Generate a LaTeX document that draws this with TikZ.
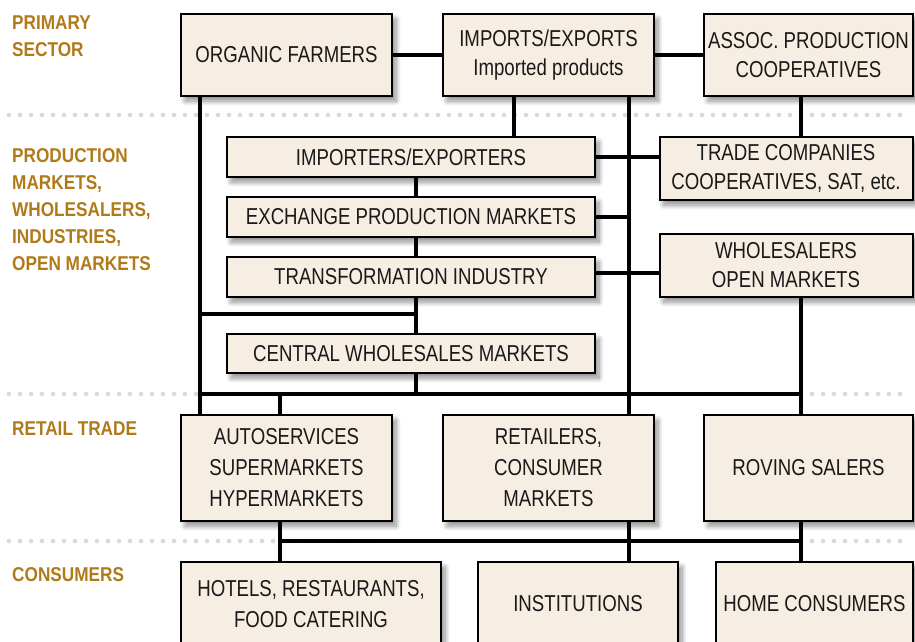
\documentclass[tikz,border=0pt]{standalone}
\usepackage{fontspec}
\setmainfont[FakeStretch=0.81]{Liberation Sans}
\newfontfamily\labelfont[FakeStretch=0.86]{Liberation Sans}
\usetikzlibrary{shadows,shadows.blur}
\definecolor{boxfill}{RGB}{246,238,227}
\definecolor{labelcol}{RGB}{176,122,24}
\definecolor{dotgray}{RGB}{218,218,218}
\definecolor{txt}{RGB}{25,25,25}
\tikzset{
  box/.style={draw=black, line width=2pt, fill=boxfill, inner sep=0pt, outer sep=0pt,
    align=center, text=txt, font=\fontsize{23}{31}\selectfont,
    blur shadow={shadow xshift=4pt, shadow yshift=-5pt, shadow blur radius=5pt, shadow blur steps=10, shadow opacity=45}},
  seclabel/.style={anchor=north west, align=left, text=labelcol, inner sep=0pt,
    font=\labelfont\bfseries\fontsize{20}{27}\selectfont},
  conn/.style={line width=3.4pt, draw=black},
}
\begin{document}
\begin{tikzpicture}[x=1pt,y=-1pt]
\useasboundingbox (0,0) rectangle (915,641);
\clip (0,0) rectangle (915,641);
% dotted separators
\foreach \yy in {115,394,541}{
  \foreach \xx in {9,20,...,910}{
    \fill[dotgray] (\xx,\yy) circle (2.3);
  }
}
% section labels
\node[seclabel] (lprim) at (12,16) {PRIMARY\\SECTOR};
\node[seclabel] (lprod) at (12,148) {PRODUCTION\\MARKETS,\\WHOLESALERS,\\INDUSTRIES,\\OPEN MARKETS};
\node[seclabel] (lret) at (12,421.5) {RETAIL TRADE};
\node[seclabel] (lcon) at (12,567) {CONSUMERS};
% boxes
\node[box, minimum width=211, minimum height=82] (org) at (286.5,55) {ORGANIC FARMERS};
\node[box, minimum width=211, minimum height=82] (imp) at (548.5,55) {IMPORTS/EXPORTS\\[-2pt]Imported products};
\node[box, minimum width=209, minimum height=82] (assoc) at (808.5,55) {ASSOC. PRODUCTION\\[-2pt]COOPERATIVES};
\node[box, minimum width=368, minimum height=40] (impx) at (411,157) {IMPORTERS/EXPORTERS};
\node[box, minimum width=253, minimum height=63] (trade) at (786,168.5) {TRADE COMPANIES\\[-2pt]COOPERATIVES, SAT, etc.};
\node[box, minimum width=368, minimum height=40] (exch) at (411,217) {EXCHANGE PRODUCTION MARKETS};
\node[box, minimum width=368, minimum height=40] (trans) at (411,277) {TRANSFORMATION INDUSTRY};
\node[box, minimum width=253, minimum height=63] (whol) at (786,265.5) {WHOLESALERS\\[-2pt]OPEN MARKETS};
\node[box, minimum width=368, minimum height=39] (cent) at (411,353.5) {CENTRAL WHOLESALES MARKETS};
\node[box, minimum width=211, minimum height=106] (auto) at (286.5,468) {AUTOSERVICES\\SUPERMARKETS\\HYPERMARKETS};
\node[box, minimum width=211, minimum height=106] (ret) at (548.5,468) {RETAILERS,\\CONSUMER\\MARKETS};
\node[box, minimum width=209, minimum height=106] (rov) at (808.5,468) {ROVING SALERS};
\node[box, minimum width=260, minimum height=84] (hot) at (311,604) {HOTELS, RESTAURANTS,\\FOOD CATERING};
\node[box, minimum width=200, minimum height=84] (inst) at (578,604) {INSTITUTIONS};
\node[box, minimum width=197, minimum height=84] (home) at (814.5,604) {HOME CONSUMERS};
% junction coordinates
\coordinate (cA) at (200,314);
\coordinate (cB) at (416,314);
\coordinate (cC) at (200,394);
\coordinate (cD) at (801,394);
\coordinate (cE) at (280,394);
\coordinate (cF) at (416,394);
\coordinate (cG) at (514,0);
\coordinate (cH) at (629,0);
\coordinate (cI) at (280,541);
\coordinate (cJ) at (801,541);
\coordinate (cK) at (629,541);
% connectors
\draw[conn] (org) -- (imp);
\draw[conn] (imp) -- (assoc);
\draw[conn] (org.south -| cA) -- (auto.north -| cA);
\draw[conn] (imp.south -| cG) -- (impx.north -| cG);
\draw[conn] (imp.south -| cH) -- (ret.north -| cH);
\draw[conn] (assoc.south -| cD) -- (trade.north -| cD);
\draw[conn] (impx.east) -- (impx.east -| trade.west);
\draw[conn] (exch.east) -- (exch.east -| cH);
\draw[conn] ([yshift=4pt]trans.east) -- ([yshift=4pt]trans.east -| whol.west);
\draw[conn] (impx.south -| cB) -- (exch.north -| cB);
\draw[conn] (exch.south -| cB) -- (trans.north -| cB);
\draw[conn] (trans.south -| cB) -- (cent.north -| cB);
\draw[conn] (cent.south -| cF) -- (cF);
\draw[conn] (cA) -- (cB);
\draw[conn] (cC) -- (cD);
\draw[conn] (whol.south -| cD) -- (rov.north -| cD);
\draw[conn] (cE) -- (auto.north -| cE);
\draw[conn] (auto.south -| cI) -- (hot.north -| cI);
\draw[conn] (ret.south -| cK) -- (inst.north -| cK);
\draw[conn] (rov.south -| cJ) -- (home.north -| cJ);
\draw[conn] (cI) -- (cJ);
\end{tikzpicture}
\end{document}
